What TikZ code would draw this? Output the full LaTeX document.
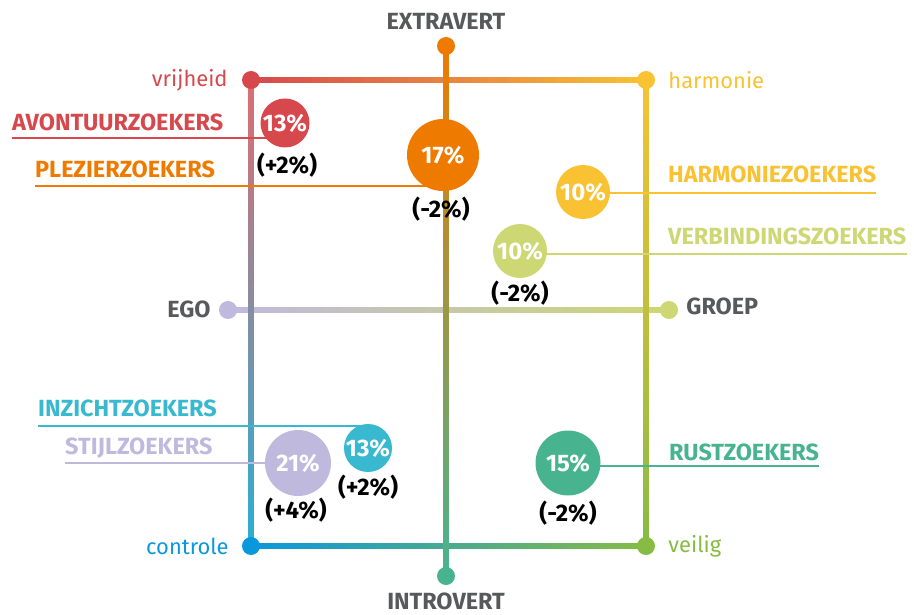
\documentclass[tikz,border=0pt]{standalone}
\usepackage{fontspec}
\setmainfont{Fira Sans}
\usetikzlibrary{calc}

\definecolor{cRed}{HTML}{D7484D}
\definecolor{cYellow}{HTML}{F8C233}
\definecolor{cBlue}{HTML}{0A98DD}
\definecolor{cGreen}{HTML}{86BC43}
\definecolor{cOrange}{HTML}{EE7A00}
\definecolor{cTeal}{HTML}{47B48F}
\definecolor{cLav}{HTML}{C0B9DE}
\definecolor{cLime}{HTML}{CDD773}
\definecolor{cCyan}{HTML}{38B9CF}
\definecolor{cGray}{HTML}{58595B}
\definecolor{cMid}{HTML}{A89C9A}

\begin{document}
\begin{tikzpicture}[x=1bp,y=-1bp,
  dot/.style={circle,fill=#1,inner sep=0pt,minimum size=18bp},
  bubble/.style={circle,fill=#1,inner sep=0pt,text=white,
    font=\bfseries\fontsize{24}{24}\selectfont},
  group/.style={text=#1,inner sep=0pt,font=\bfseries\fontsize{23.5}{23.5}\selectfont},
  leader/.style={draw=#1,line width=1.5bp},
  change/.style={inner sep=0pt,font=\bfseries\fontsize{24}{24}\selectfont},
  pole/.style={text=#1,inner sep=0pt,font=\fontsize{22}{22}\selectfont},
  axisname/.style={text=cGray,inner sep=0pt,font=\bfseries\fontsize{23.5}{23.5}\selectfont}]
  \useasboundingbox (0,0) rectangle (914,615);

  % corners and ends of the axes
  \coordinate (vrij)  at (251,80);
  \coordinate (harm)  at (646,80);
  \coordinate (contr) at (251,546);
  \coordinate (veil)  at (646,546);
  \coordinate (extra) at (446,46);
  \coordinate (intro) at (446,576);
  \coordinate (ego)   at (228,310);
  \coordinate (groep) at (669,310);

  % horizontal axes
  \shade[left color=cRed,right color=cYellow] ($(vrij)+(0,-2.5)$) rectangle ($(harm)+(0,2.5)$);
  \shade[left color=cBlue,right color=cGreen] ($(contr)+(0,-2.5)$) rectangle ($(veil)+(0,2.5)$);
  \shade[left color=cLav,right color=cLime] ($(ego)+(0,-2.5)$) rectangle ($(groep)+(0,2.5)$);
  % vertical axes
  \shade[top color=cRed!80,middle color=cMid,bottom color=cCyan!70!cBlue] ($(vrij)+(-2.5,0)$) rectangle ($(contr)+(2.5,0)$);
  \shade[top color=cYellow,bottom color=cGreen] ($(harm)+(-2.5,0)$) rectangle ($(veil)+(2.5,0)$);
  \shade[top color=cOrange,bottom color=cTeal] ($(extra)+(-2.5,0)$) rectangle ($(intro)+(2.5,0)$);

  \node[dot=cRed]    (vrijD)  at (vrij)  {};
  \node[dot=cYellow] (harmD)  at (harm)  {};
  \node[dot=cBlue]   (contrD) at (contr) {};
  \node[dot=cGreen]  (veilD)  at (veil)  {};
  \node[dot=cOrange] (extraD) at (extra) {};
  \node[dot=cTeal]   (introD) at (intro) {};
  \node[dot=cLav]    (egoD)   at (ego)   {};
  \node[dot=cLime]   (groepD) at (groep) {};

  % axis names
  \node[pole=cRed,anchor=east]   at ($(vrijD.west)+(-14,0)$)  {vrijheid};
  \node[pole=cYellow,anchor=west] at ($(harmD.east)+(13,0)$)  {harmonie};
  \node[pole=cBlue,anchor=east]  at ($(contrD.west)+(-13,0)$) {controle};
  \node[pole=cGreen,anchor=west] at ($(veilD.east)+(13,0)$)   {veilig};
  \node[axisname,anchor=base]    at (446,30)  {EXTRAVERT};
  \node[axisname,anchor=base]    at (446,609) {INTROVERT};
  \node[axisname,anchor=east]    at ($(egoD.west)+(-8,-1)$)   {EGO};
  \node[axisname,anchor=west]    at ($(groepD.east)+(8,-4)$)  {GROEP};

  % centres of the groups
  \coordinate (avon)  at (285,123);
  \coordinate (plez)  at (443,155);
  \coordinate (harz)  at (583,192);
  \coordinate (verb)  at (520,251);
  \coordinate (inzi)  at (368,448);
  \coordinate (stij)  at (298,463);
  \coordinate (rust)  at (568,463);

  % group names with their lines
  \node[group=cRed,anchor=base west]    (avonL) at (12,131)  {AVONTUURZOEKERS};
  \node[group=cOrange,anchor=base west] (plezL) at (35,178)  {PLEZIERZOEKERS};
  \node[group=cYellow,anchor=base west] (harzL) at (668,183) {HARMONIEZOEKERS};
  \node[group=cLime,anchor=base west]   (verbL) at (668,245) {VERBINDINGSZOEKERS};
  \node[group=cCyan,anchor=base west]   (inziL) at (38,416)  {INZICHTZOEKERS};
  \node[group=cLav,anchor=base west]    (stijL) at (65,454)  {STIJLZOEKERS};
  \node[group=cTeal,anchor=base west]   (rustL) at (669,460) {RUSTZOEKERS};

  \draw[leader=cRed]    (avonL.base west |- 0,138) coordinate (p) -- (p -| avon);
  \draw[leader=cOrange] (plezL.base west |- 0,186) coordinate (p) -- (p -| plez);
  \draw[leader=cYellow] (harzL.base east |- 0,193) coordinate (p) -- (p -| harz);
  \draw[leader=cLime]   (verbL.base east |- 0,254) coordinate (p) -- (p -| verb);
  \draw[leader=cCyan]   (inziL.base west |- 0,426) coordinate (p) -- (p -| inzi);
  \draw[leader=cLav]    (stijL.base west |- 0,463) coordinate (p) -- (p -| stij);
  \draw[leader=cTeal]   (rustL.base east |- 0,466) coordinate (p) -- (p -| rust);

  % bubbles
  \node[bubble=cRed,minimum size=49bp]    (avonB) at (avon) {13\%};
  \node[bubble=cOrange,minimum size=72bp] (plezB) at (plez) {17\%};
  \node[bubble=cYellow,minimum size=54bp] (harzB) at (harz) {10\%};
  \node[bubble=cLime,minimum size=54bp]   (verbB) at (verb) {10\%};
  \node[bubble=cCyan,minimum size=48bp]   (inziB) at (inzi) {13\%};
  \node[bubble=cLav,minimum size=66bp]    (stijB) at (stij) {21\%};
  \node[bubble=cTeal,minimum size=65bp]   (rustB) at (rust) {15\%};

  % changes
  \node[change,anchor=north] at ($(avonB.south)+(2,5)$) {(+2\%)};
  \node[change,anchor=north] at ($(plezB.south)+(-2,6)$) {(-2\%)};
  \node[change,anchor=north] at ($(verbB.south)+(0,3)$) {(-2\%)};
  \node[change,anchor=north] at ($(inziB.south)+(0,3)$) {(+2\%)};
  \node[change,anchor=north] at ($(stijB.south)+(-2,2)$) {(+4\%)};
  \node[change,anchor=north] at ($(rustB.south)+(0,5)$) {(-2\%)};
\end{tikzpicture}
\end{document}
